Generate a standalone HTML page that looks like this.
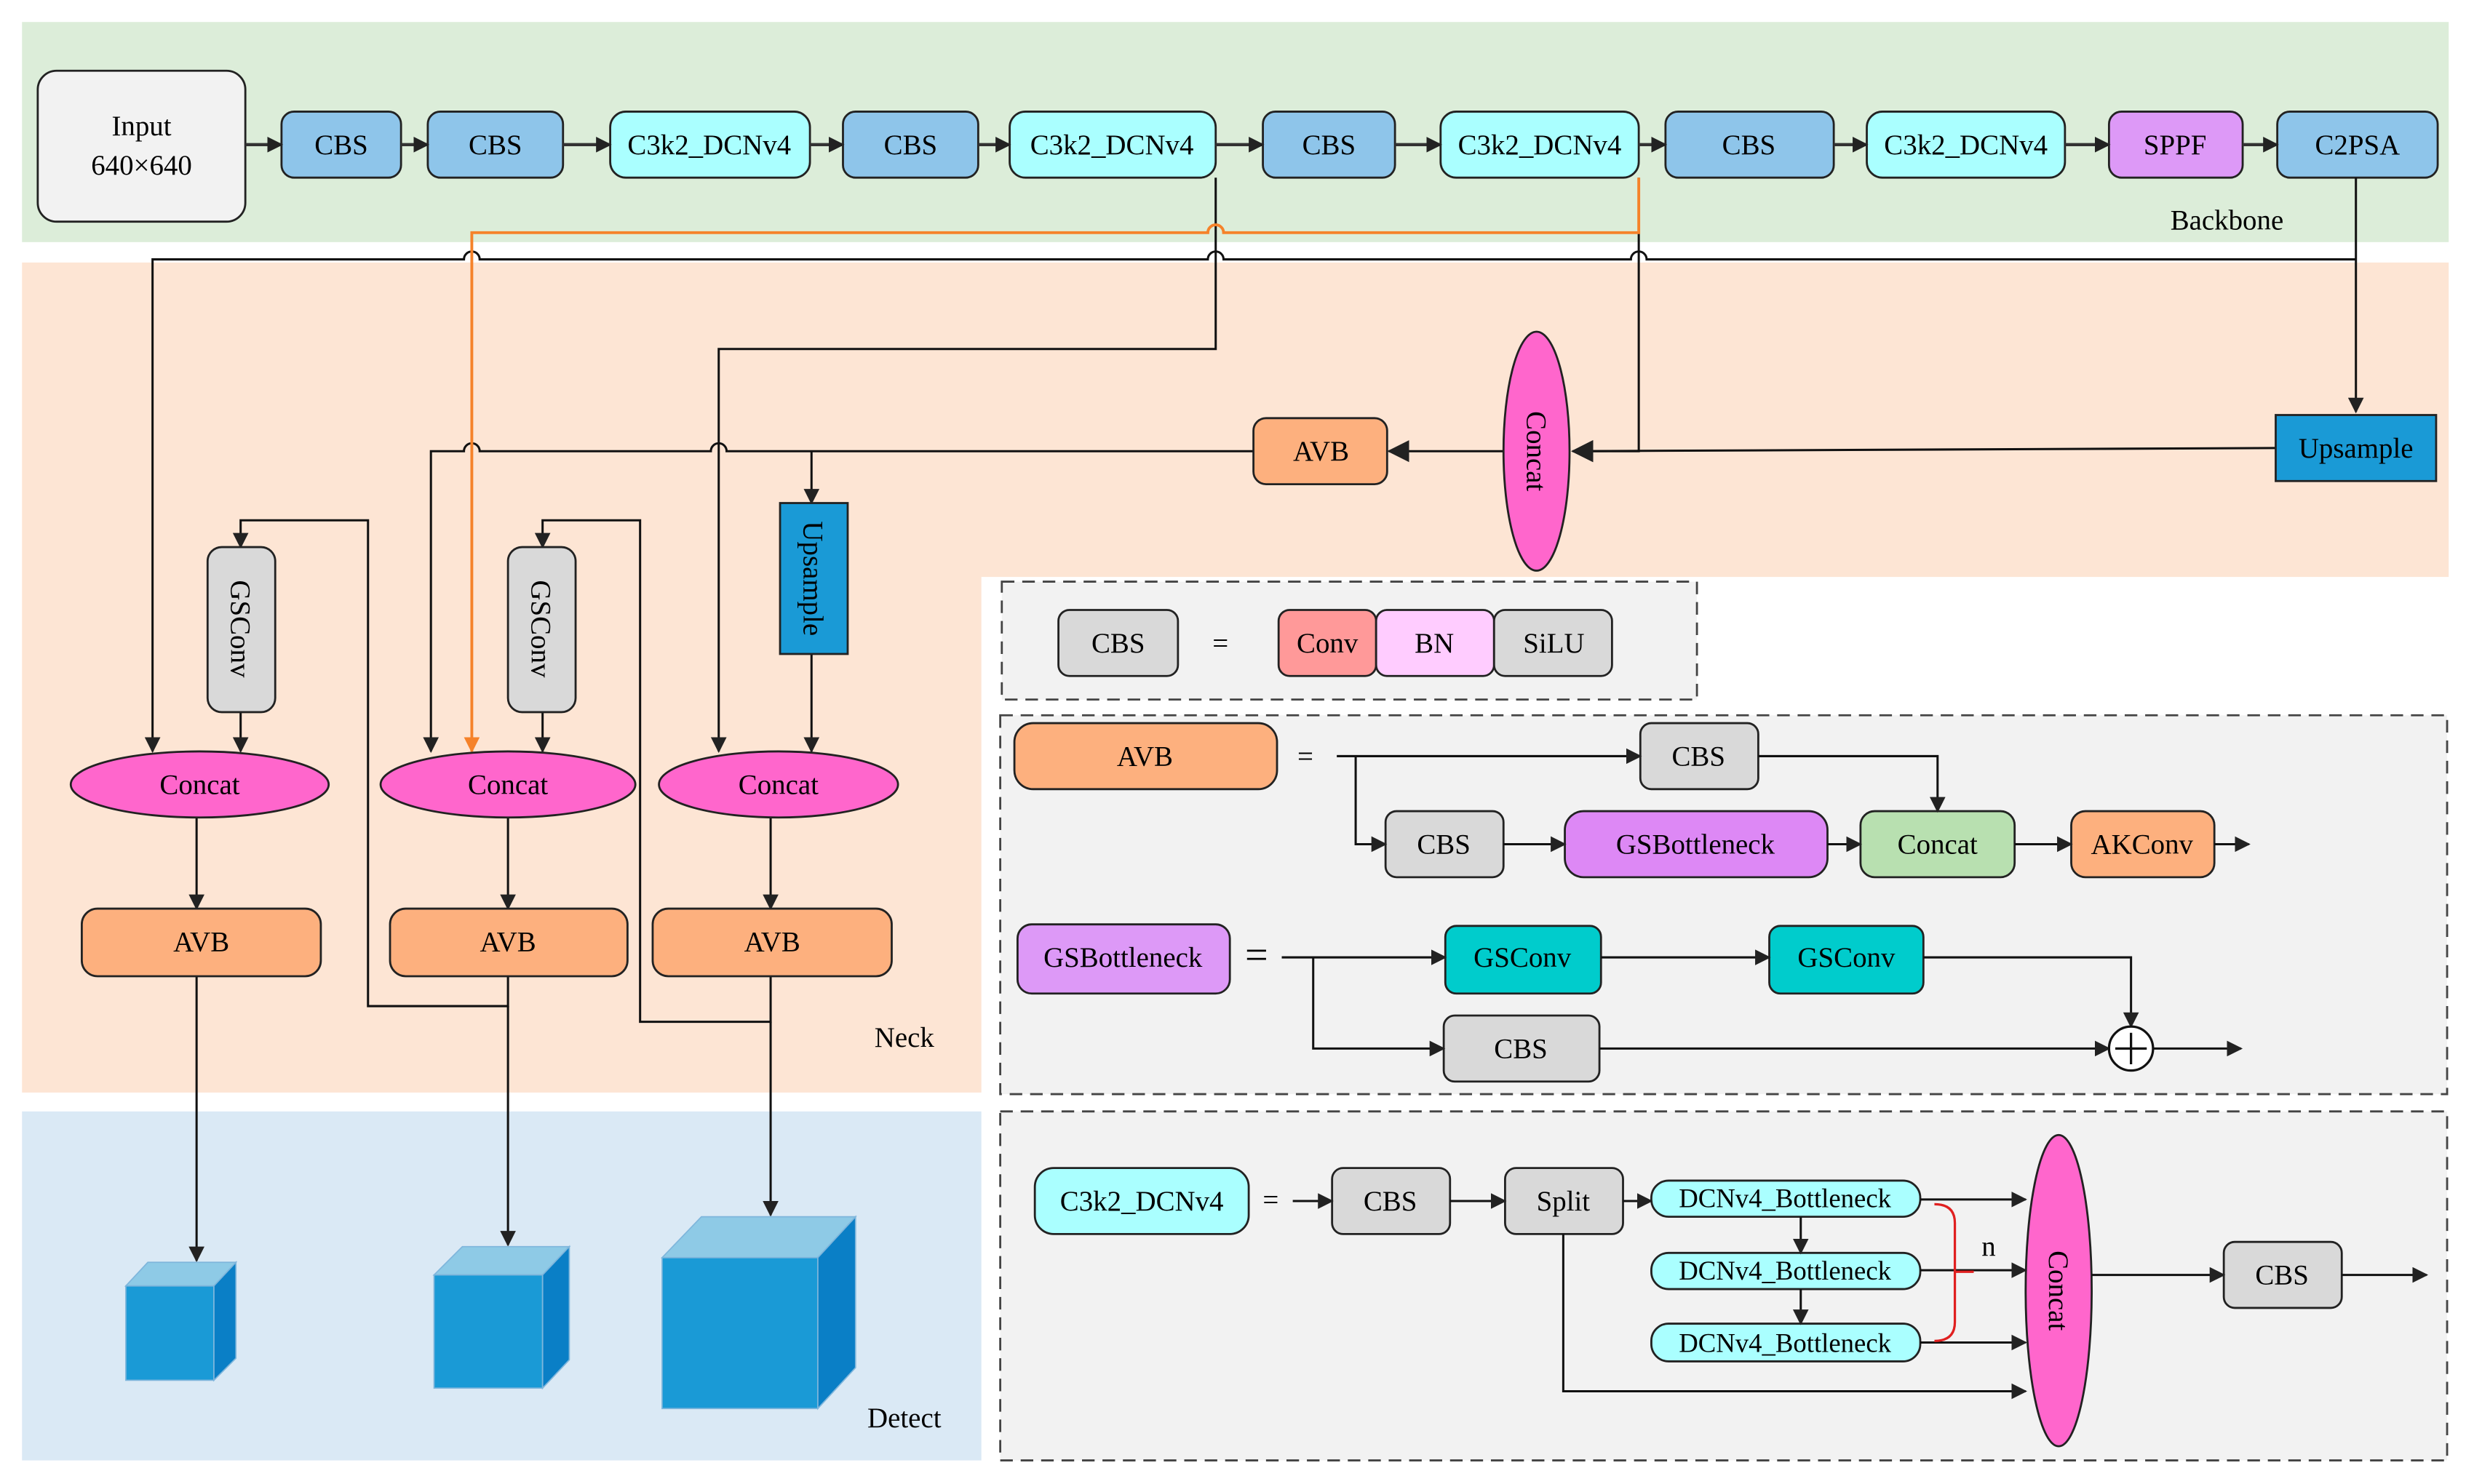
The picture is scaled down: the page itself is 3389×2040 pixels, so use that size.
<!DOCTYPE html>
<html><head><meta charset="utf-8"><style>
html,body{margin:0;padding:0;background:#fff;}
svg{display:block;font-family:"Liberation Serif","Times New Roman",serif;}
svg text{font-family:"Liberation Serif","Times New Roman",serif;font-size:18px;fill:#000;}
</style></head><body>
<svg width="3389" height="2040" viewBox="0 0 1568 944" preserveAspectRatio="none" xmlns="http://www.w3.org/2000/svg" font-family="Liberation Serif, serif">
<defs>
<marker id="a" markerWidth="10" markerHeight="10" refX="9" refY="5" orient="auto" markerUnits="userSpaceOnUse"><path d="M0,0 L10,5 L0,10 z" fill="#222"/></marker>
<marker id="ab" markerWidth="14" markerHeight="14" refX="13" refY="7" orient="auto" markerUnits="userSpaceOnUse"><path d="M0,0 L14,7 L0,14 z" fill="#222"/></marker>
<marker id="ao" markerWidth="10" markerHeight="10" refX="9" refY="5" orient="auto" markerUnits="userSpaceOnUse"><path d="M0,0 L10,5 L0,10 z" fill="#f5822a"/></marker>
</defs>
<rect x="14" y="14" width="1543" height="140" fill="#dcedd9"/>
<path d="M14,167 H1557 V367 H624 V695 H14 Z" fill="#fde5d4"/>
<rect x="14" y="707" width="610" height="222" fill="#dae9f5"/>
<g fill="#f2f2f2" stroke="#444" stroke-dasharray="8,5" stroke-width="1.3">
<rect x="637" y="370" width="442" height="75"/>
<rect x="636" y="455" width="920" height="241"/>
<rect x="636" y="707" width="920" height="222"/>
</g>
<g stroke="#222" stroke-width="1.3">
<rect x="24" y="45" width="132" height="96" rx="12" fill="#f2f2f2"/>
<rect x="179" y="71" width="76" height="42" rx="8" fill="#8ec5ea"/>
<rect x="272" y="71" width="86" height="42" rx="8" fill="#8ec5ea"/>
<rect x="388" y="71" width="127" height="42" rx="10" fill="#aaffff"/>
<rect x="536" y="71" width="86" height="42" rx="8" fill="#8ec5ea"/>
<rect x="642" y="71" width="131" height="42" rx="10" fill="#aaffff"/>
<rect x="803" y="71" width="84" height="42" rx="8" fill="#8ec5ea"/>
<rect x="916" y="71" width="126" height="42" rx="10" fill="#aaffff"/>
<rect x="1059" y="71" width="107" height="42" rx="8" fill="#8ec5ea"/>
<rect x="1187" y="71" width="126" height="42" rx="10" fill="#aaffff"/>
<rect x="1341" y="71" width="85" height="42" rx="8" fill="#dd99f7"/>
<rect x="1448" y="71" width="102" height="42" rx="8" fill="#8ec5ea"/>
</g>
<g stroke="#333" stroke-width="2" fill="none" marker-end="url(#a)">
<line x1="156" y1="92" x2="179" y2="92"/><line x1="255" y1="92" x2="272" y2="92"/>
<line x1="358" y1="92" x2="388" y2="92"/><line x1="515" y1="92" x2="536" y2="92"/>
<line x1="622" y1="92" x2="642" y2="92"/><line x1="773" y1="92" x2="803" y2="92"/>
<line x1="887" y1="92" x2="916" y2="92"/><line x1="1042" y1="92" x2="1059" y2="92"/>
<line x1="1166" y1="92" x2="1187" y2="92"/><line x1="1313" y1="92" x2="1341" y2="92"/>
<line x1="1426" y1="92" x2="1448" y2="92"/>
</g>
<g>
<text x="90" y="86" text-anchor="middle">Input</text><text x="90" y="111" text-anchor="middle">640×640</text>
<text x="217" y="98" text-anchor="middle">CBS</text><text x="315" y="98" text-anchor="middle">CBS</text>
<text x="451" y="98" text-anchor="middle">C3k2_DCNv4</text><text x="579" y="98" text-anchor="middle">CBS</text>
<text x="707" y="98" text-anchor="middle">C3k2_DCNv4</text><text x="845" y="98" text-anchor="middle">CBS</text>
<text x="979" y="98" text-anchor="middle">C3k2_DCNv4</text><text x="1112" y="98" text-anchor="middle">CBS</text>
<text x="1250" y="98" text-anchor="middle">C3k2_DCNv4</text><text x="1383" y="98" text-anchor="middle">SPPF</text>
<text x="1499" y="98" text-anchor="middle">C2PSA</text>
<text x="1416" y="146" text-anchor="middle">Backbone</text>
<text x="575" y="666" text-anchor="middle">Neck</text>
<text x="575" y="908" text-anchor="middle">Detect</text>
</g>
<g stroke="#111" stroke-width="1.4" fill="none">
<path d="M1498,113 V262" marker-end="url(#a)"/>
<path d="M1498,165 H1047 a5,5 0 0 0 -10,0 H778 a5,5 0 0 0 -10,0 H305 a5,5 0 0 0 -10,0 H97 V478" marker-end="url(#a)"/>
<path d="M773,113 V222 H457 V478" marker-end="url(#a)"/>
<path d="M1042,113 V287 H1000" marker-end="url(#ab)"/>
<path d="M1447,285 L1000,287" marker-end="url(#ab)"/>
<path d="M957,287 H883" marker-end="url(#ab)"/>
<path d="M797,287 H462 a5,5 0 0 0 -10,0 H305 a5,5 0 0 0 -10,0 H274 V478" marker-end="url(#a)"/>
<path d="M516,287 V320" marker-end="url(#a)"/>
<path d="M516,416 V478" marker-end="url(#a)"/>
<path d="M153,453 V478" marker-end="url(#a)"/>
<path d="M345,453 V478" marker-end="url(#a)"/>
<path d="M125,520 V578" marker-end="url(#a)"/>
<path d="M323,520 V578" marker-end="url(#a)"/>
<path d="M490,520 V578" marker-end="url(#a)"/>
<path d="M323,621 V640 H234 V331 H153 V348" marker-end="url(#a)"/>
<path d="M490,621 V650 H407 V331 H345 V348" marker-end="url(#a)"/>
<path d="M125,621 V802" marker-end="url(#a)"/>
<path d="M323,640 V792" marker-end="url(#a)"/>
<path d="M490,650 V773" marker-end="url(#a)"/>
</g>
<path d="M1042,113 V148 H778 a5,5 0 0 0 -10,0 H300 V478" stroke="#f5822a" stroke-width="1.8" fill="none" marker-end="url(#ao)"/>
<g stroke="#222" stroke-width="1.3">
<rect x="1447" y="264" width="102" height="42" fill="#1a9ad6"/>
<ellipse cx="977" cy="287" rx="21" ry="76" fill="#ff66cc"/>
<rect x="797" y="266" width="85" height="42" rx="8" fill="#fdb07e"/>
<rect x="496" y="320" width="43" height="96" fill="#1a9ad6"/>
<rect x="132" y="348" width="43" height="105" rx="9" fill="#d9d9d9"/>
<rect x="323" y="348" width="43" height="105" rx="9" fill="#d9d9d9"/>
<ellipse cx="127" cy="499" rx="82" ry="21" fill="#ff66cc"/>
<ellipse cx="323" cy="499" rx="81" ry="21" fill="#ff66cc"/>
<ellipse cx="495" cy="499" rx="76" ry="21" fill="#ff66cc"/>
<rect x="52" y="578" width="152" height="43" rx="10" fill="#fdb07e"/>
<rect x="248" y="578" width="151" height="43" rx="10" fill="#fdb07e"/>
<rect x="415" y="578" width="152" height="43" rx="10" fill="#fdb07e"/>
</g>
<text x="1498" y="291" text-anchor="middle">Upsample</text>
<text x="840" y="293" text-anchor="middle">AVB</text>
<text transform="translate(971,287) rotate(90)" text-anchor="middle">Concat</text>
<text transform="translate(511,368) rotate(90)" text-anchor="middle">Upsample</text>
<text transform="translate(147,400) rotate(90)" text-anchor="middle">GSConv</text>
<text transform="translate(338,400) rotate(90)" text-anchor="middle">GSConv</text>
<text x="127" y="505" text-anchor="middle">Concat</text><text x="323" y="505" text-anchor="middle">Concat</text><text x="495" y="505" text-anchor="middle">Concat</text>
<text x="128" y="605" text-anchor="middle">AVB</text><text x="323" y="605" text-anchor="middle">AVB</text><text x="491" y="605" text-anchor="middle">AVB</text>
<g stroke="#7fb6dc" stroke-width="0.8">
<path d="M80,818 L94,803 H150 L136,818 Z" fill="#8ecae6"/><rect x="80" y="818" width="56" height="60" fill="#1a9ad6"/><path d="M136,818 L150,803 V864 L136,878 Z" fill="#0a7fc6"/>
<path d="M276,811 L294,793 H362 L345,811 Z" fill="#8ecae6"/><rect x="276" y="811" width="69" height="72" fill="#1a9ad6"/><path d="M345,811 L362,793 V865 L345,883 Z" fill="#0a7fc6"/>
<path d="M421,800 L446,774 H544 L520,800 Z" fill="#8ecae6"/><rect x="421" y="800" width="99" height="96" fill="#1a9ad6"/><path d="M520,800 L544,774 V870 L520,896 Z" fill="#0a7fc6"/>
</g>
<g stroke="#222" stroke-width="1.3">
<rect x="673" y="388" width="76" height="42" rx="7" fill="#d9d9d9"/>
<rect x="813" y="388" width="62" height="42" rx="7" fill="#ff9999"/>
<rect x="875" y="388" width="75" height="42" rx="7" fill="#ffccff"/>
<rect x="950" y="388" width="75" height="42" rx="7" fill="#d9d9d9"/>
<rect x="645" y="460" width="167" height="42" rx="12" fill="#fdb07e"/>
<rect x="1043" y="460" width="75" height="42" rx="7" fill="#d9d9d9"/>
<rect x="881" y="516" width="75" height="42" rx="7" fill="#d9d9d9"/>
<rect x="995" y="516" width="167" height="42" rx="12" fill="#dd88f5"/>
<rect x="1183" y="516" width="98" height="42" rx="9" fill="#b8e0b0"/>
<rect x="1317" y="516" width="91" height="42" rx="9" fill="#fdb07e"/>
<rect x="647" y="588" width="135" height="44" rx="9" fill="#dd99f7"/>
<rect x="919" y="589" width="99" height="43" rx="7" fill="#00cccc"/>
<rect x="1125" y="589" width="98" height="43" rx="7" fill="#00cccc"/>
<rect x="918" y="646" width="99" height="42" rx="7" fill="#d9d9d9"/>
<rect x="658" y="743" width="136" height="42" rx="12" fill="#aaffff"/>
<rect x="847" y="743" width="75" height="42" rx="7" fill="#d9d9d9"/>
<rect x="957" y="743" width="75" height="42" rx="7" fill="#d9d9d9"/>
<rect x="1050" y="751" width="171" height="23" rx="11" fill="#aaffff"/>
<rect x="1050" y="797" width="171" height="23" rx="11" fill="#aaffff"/>
<rect x="1050" y="842" width="171" height="24" rx="11" fill="#aaffff"/>
<ellipse cx="1309" cy="821" rx="21" ry="99" fill="#ff66cc"/>
<rect x="1414" y="790" width="75" height="42" rx="7" fill="#d9d9d9"/>
</g>
<g stroke="#111" stroke-width="1.4" fill="none">
<path d="M850,481 H1043" marker-end="url(#a)"/>
<path d="M862,481 V537 H881" marker-end="url(#a)"/>
<path d="M956,537 H995" marker-end="url(#a)"/>
<path d="M1162,537 H1183" marker-end="url(#a)"/>
<path d="M1281,537 H1317" marker-end="url(#a)"/>
<path d="M1408,537 H1430" marker-end="url(#a)"/>
<path d="M1118,481 H1232 V516" marker-end="url(#a)"/>
<path d="M815,609 H919" marker-end="url(#a)"/>
<path d="M1018,609 H1125" marker-end="url(#a)"/>
<path d="M1223,609 H1355 V653" marker-end="url(#a)"/>
<path d="M835,609 V667 H918" marker-end="url(#a)"/>
<path d="M1017,667 H1341" marker-end="url(#a)"/>
<path d="M1369,667 H1425" marker-end="url(#a)"/>
<path d="M822,764 H847" marker-end="url(#a)"/>
<path d="M922,764 H957" marker-end="url(#a)"/>
<path d="M1032,764 H1050" marker-end="url(#a)"/>
<path d="M1221,763 H1288" marker-end="url(#a)"/>
<path d="M1221,808 H1288" marker-end="url(#a)"/>
<path d="M1221,854 H1288" marker-end="url(#a)"/>
<path d="M1145,774 V797" marker-end="url(#a)"/>
<path d="M1145,820 V842" marker-end="url(#a)"/>
<path d="M994,785 V885 H1288" marker-end="url(#a)"/>
<path d="M1330,811 H1414" marker-end="url(#a)"/>
<path d="M1489,811 H1543" marker-end="url(#a)"/>
</g>
<circle cx="1355" cy="667" r="14" fill="#fff" stroke="#111" stroke-width="1.5"/>
<path d="M1345,667 H1365 M1355,657 V677" stroke="#111" stroke-width="1.5"/>
<path d="M1230,766 Q1243,766 1243,778 V841 Q1243,853 1230,853 M1243,809 H1255" stroke="#e02020" stroke-width="1.5" fill="none"/>
<text x="1260" y="799">n</text>
<text x="711" y="415" text-anchor="middle">CBS</text><text x="776" y="415" text-anchor="middle">=</text>
<text x="844" y="415" text-anchor="middle">Conv</text><text x="912" y="415" text-anchor="middle">BN</text><text x="988" y="415" text-anchor="middle">SiLU</text>
<text x="728" y="487" text-anchor="middle">AVB</text><text x="830" y="487" text-anchor="middle">=</text>
<text x="1080" y="487" text-anchor="middle">CBS</text><text x="918" y="543" text-anchor="middle">CBS</text>
<text x="1078" y="543" text-anchor="middle">GSBottleneck</text><text x="1232" y="543" text-anchor="middle">Concat</text>
<text x="1362" y="543" text-anchor="middle">AKConv</text>
<text x="714" y="615" text-anchor="middle">GSBottleneck</text><text x="799" y="616" text-anchor="middle" style="font-size:26px">=</text>
<text x="968" y="615" text-anchor="middle">GSConv</text><text x="1174" y="615" text-anchor="middle">GSConv</text>
<text x="967" y="673" text-anchor="middle">CBS</text>
<text x="726" y="770" text-anchor="middle">C3k2_DCNv4</text><text x="808" y="769" text-anchor="middle">=</text>
<text x="884" y="770" text-anchor="middle">CBS</text><text x="994" y="770" text-anchor="middle">Split</text>
<text x="1135" y="768" text-anchor="middle" style="font-size:17px">DCNv4_Bottleneck</text>
<text x="1135" y="814" text-anchor="middle" style="font-size:17px">DCNv4_Bottleneck</text>
<text x="1135" y="860" text-anchor="middle" style="font-size:17px">DCNv4_Bottleneck</text>
<text transform="translate(1303,821) rotate(90)" text-anchor="middle">Concat</text>
<text x="1451" y="817" text-anchor="middle">CBS</text>
</svg>
</body></html>
